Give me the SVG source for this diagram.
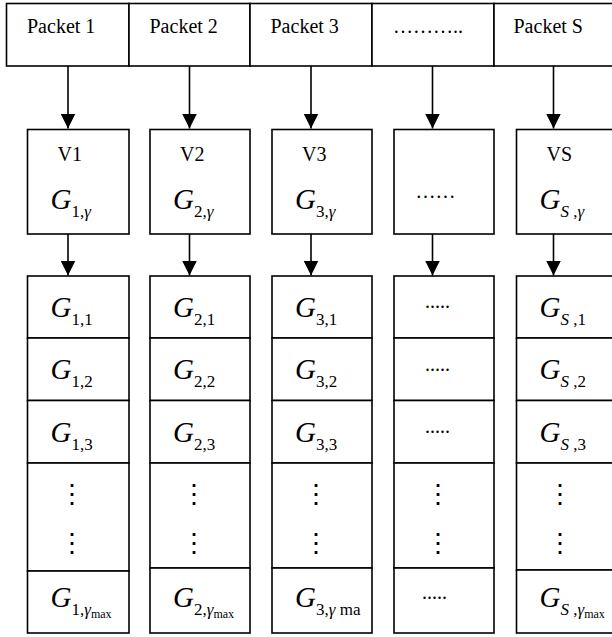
<svg xmlns="http://www.w3.org/2000/svg" width="612" height="637" viewBox="0 0 612 637">
<defs>
<style>
.box{fill:#fff;stroke:#000;stroke-width:1.6}
.ln{stroke:#000;stroke-width:1.6;fill:none}
.t{font-family:"Liberation Serif","Times New Roman",serif;font-size:20px;fill:#000}
.g{font-family:"Liberation Serif","Times New Roman",serif;font-style:italic;font-size:29px;fill:#000}
.s{font-style:normal;font-size:17px}
.it{font-style:italic}
.mx{font-style:normal;font-size:12px}
.vd{font-family:"DejaVu Serif",serif;font-size:26px;fill:#000;text-anchor:middle}
</style>
<marker id="ah" markerUnits="userSpaceOnUse" markerWidth="15" markerHeight="15" viewBox="0 0 15 15" refX="15" refY="7.5" orient="auto">
<path d="M0,0 L15,7.5 L0,15 z" fill="#000"/>
</marker>
</defs>
<rect width="612" height="637" fill="#fff"/>

<g id="packet1"><rect class="box" x="6.5" y="3.5" width="122.5" height="62.5"/><text class="t" x="27" y="33">Packet 1</text></g>
<g id="packet2"><rect class="box" x="129" y="3.5" width="121" height="62.5"/><text class="t" x="149.5" y="33">Packet 2</text></g>
<g id="packet3"><rect class="box" x="250" y="3.5" width="122" height="62.5"/><text class="t" x="270.5" y="33">Packet 3</text></g>
<g id="packetDots"><rect class="box" x="372" y="3.5" width="122" height="62.5"/><text class="t" x="393" y="33">………..</text></g>
<g id="packetS"><rect class="box" x="494" y="3.5" width="122" height="62.5"/><text class="t" x="513.5" y="33">Packet S</text></g>

<g id="v1"><rect class="box" x="27.5" y="129.5" width="101.5" height="104.5"/><text class="t" x="57.5" y="161">V1</text><text class="g" x="50.5" y="208.5">G<tspan class="s" y="216.5">1,<tspan class="it">γ</tspan></tspan></text></g>
<g id="v2"><rect class="box" x="150" y="129.5" width="100" height="104.5"/><text class="t" x="180" y="161">V2</text><text class="g" x="173" y="208.5">G<tspan class="s" y="216.5">2,<tspan class="it">γ</tspan></tspan></text></g>
<g id="v3"><rect class="box" x="272" y="129.5" width="100" height="104.5"/><text class="t" x="302" y="161">V3</text><text class="g" x="295" y="208.5">G<tspan class="s" y="216.5">3,<tspan class="it">γ</tspan></tspan></text></g>
<g id="vDots"><rect class="box" x="394" y="129.5" width="100" height="104.5"/><text class="t" x="415.5" y="198">……</text></g>
<g id="vS"><rect class="box" x="516.5" y="129.5" width="100" height="104.5"/><text class="t" x="546.5" y="161">VS</text><text class="g" x="539.5" y="208.5">G<tspan class="s" y="216.5"><tspan class="it">S</tspan> ,<tspan class="it">γ</tspan></tspan></text></g>

<g id="col1">
<g id="g11"><rect class="box" x="27.5" y="276" width="101.5" height="62"/><text class="g" x="50.5" y="317">G<tspan class="s" y="325">1,1</tspan></text></g>
<g id="g12"><rect class="box" x="27.5" y="338" width="101.5" height="62.5"/><text class="g" x="50.5" y="379">G<tspan class="s" y="387">1,2</tspan></text></g>
<g id="g13"><rect class="box" x="27.5" y="400.5" width="101.5" height="62.5"/><text class="g" x="50.5" y="441.5">G<tspan class="s" y="449.5">1,3</tspan></text></g>
<g id="g1dots"><rect class="box" x="27.5" y="463" width="101.5" height="108"/><text class="vd" x="72" y="503">⋮</text><text class="vd" x="72" y="552">⋮</text></g>
<g id="g1max"><rect class="box" x="27.5" y="571" width="101.5" height="62"/><text class="g" x="50.5" y="607">G<tspan class="s" y="615">1,<tspan class="it">γ</tspan></tspan><tspan class="mx" y="618">max</tspan></text></g>
</g>

<g id="col2">
<g id="g21"><rect class="box" x="150" y="276" width="100" height="62"/><text class="g" x="173" y="317">G<tspan class="s" y="325">2,1</tspan></text></g>
<g id="g22"><rect class="box" x="150" y="338" width="100" height="62.5"/><text class="g" x="173" y="379">G<tspan class="s" y="387">2,2</tspan></text></g>
<g id="g23"><rect class="box" x="150" y="400.5" width="100" height="62.5"/><text class="g" x="173" y="441.5">G<tspan class="s" y="449.5">2,3</tspan></text></g>
<g id="g2dots"><rect class="box" x="150" y="463" width="100" height="105"/><text class="vd" x="194" y="503">⋮</text><text class="vd" x="194" y="552">⋮</text></g>
<g id="g2max"><rect class="box" x="150" y="568" width="100" height="65"/><text class="g" x="173" y="607">G<tspan class="s" y="615">2,<tspan class="it">γ</tspan></tspan><tspan class="mx" y="618">max</tspan></text></g>
</g>

<g id="col3">
<g id="g31"><rect class="box" x="272" y="276" width="100" height="62"/><text class="g" x="295" y="317">G<tspan class="s" y="325">3,1</tspan></text></g>
<g id="g32"><rect class="box" x="272" y="338" width="100" height="62.5"/><text class="g" x="295" y="379">G<tspan class="s" y="387">3,2</tspan></text></g>
<g id="g33"><rect class="box" x="272" y="400.5" width="100" height="62.5"/><text class="g" x="295" y="441.5">G<tspan class="s" y="449.5">3,3</tspan></text></g>
<g id="g3dots"><rect class="box" x="272" y="463" width="100" height="105"/><text class="vd" x="316" y="503">⋮</text><text class="vd" x="316" y="552">⋮</text></g>
<g id="g3max"><rect class="box" x="272" y="568" width="100" height="65"/><text class="g" x="295" y="607">G<tspan class="s" y="615">3,<tspan class="it">γ</tspan> ma</tspan></text></g>
</g>

<g id="col4">
<g id="g41"><rect class="box" x="394" y="276" width="100" height="62"/><text class="t" x="425" y="308">.....</text></g>
<g id="g42"><rect class="box" x="394" y="338" width="100" height="62.5"/><text class="t" x="425" y="370.5">.....</text></g>
<g id="g43"><rect class="box" x="394" y="400.5" width="100" height="62.5"/><text class="t" x="425" y="433">.....</text></g>
<g id="g4dots"><rect class="box" x="394" y="463" width="100" height="105"/><text class="vd" x="438" y="503">⋮</text><text class="vd" x="438" y="552">⋮</text></g>
<g id="g4max"><rect class="box" x="394" y="568" width="100" height="65"/><text class="t" x="422" y="598.5">.....</text></g>
</g>

<g id="colS">
<g id="gS1"><rect class="box" x="516.5" y="276" width="100" height="62"/><text class="g" x="539.5" y="317">G<tspan class="s" y="325"><tspan class="it">S</tspan> ,1</tspan></text></g>
<g id="gS2"><rect class="box" x="516.5" y="338" width="100" height="62.5"/><text class="g" x="539.5" y="379">G<tspan class="s" y="387"><tspan class="it">S</tspan> ,2</tspan></text></g>
<g id="gS3"><rect class="box" x="516.5" y="400.5" width="100" height="62.5"/><text class="g" x="539.5" y="441.5">G<tspan class="s" y="449.5"><tspan class="it">S</tspan> ,3</tspan></text></g>
<g id="gSdots"><rect class="box" x="516.5" y="463" width="100" height="107"/><text class="vd" x="560" y="503">⋮</text><text class="vd" x="560" y="552">⋮</text></g>
<g id="gSmax"><rect class="box" x="516.5" y="570" width="100" height="63"/><text class="g" x="539.5" y="607">G<tspan class="s" y="615"><tspan class="it">S</tspan> ,<tspan class="it">γ</tspan></tspan><tspan class="mx" y="618">max</tspan></text></g>
</g>

<g id="connectors">
<line class="ln" x1="68" y1="66" x2="68" y2="128.5" marker-end="url(#ah)"/>
<line class="ln" x1="189.5" y1="66" x2="189.5" y2="128.5" marker-end="url(#ah)"/>
<line class="ln" x1="311" y1="66" x2="311" y2="128.5" marker-end="url(#ah)"/>
<line class="ln" x1="432.5" y1="66" x2="432.5" y2="128.5" marker-end="url(#ah)"/>
<line class="ln" x1="553.5" y1="66" x2="553.5" y2="128.5" marker-end="url(#ah)"/>
<line class="ln" x1="68" y1="234" x2="68" y2="275.5" marker-end="url(#ah)"/>
<line class="ln" x1="189.5" y1="234" x2="189.5" y2="275.5" marker-end="url(#ah)"/>
<line class="ln" x1="311" y1="234" x2="311" y2="275.5" marker-end="url(#ah)"/>
<line class="ln" x1="432.5" y1="234" x2="432.5" y2="275.5" marker-end="url(#ah)"/>
<line class="ln" x1="553.5" y1="234" x2="553.5" y2="275.5" marker-end="url(#ah)"/>
</g>
</svg>
